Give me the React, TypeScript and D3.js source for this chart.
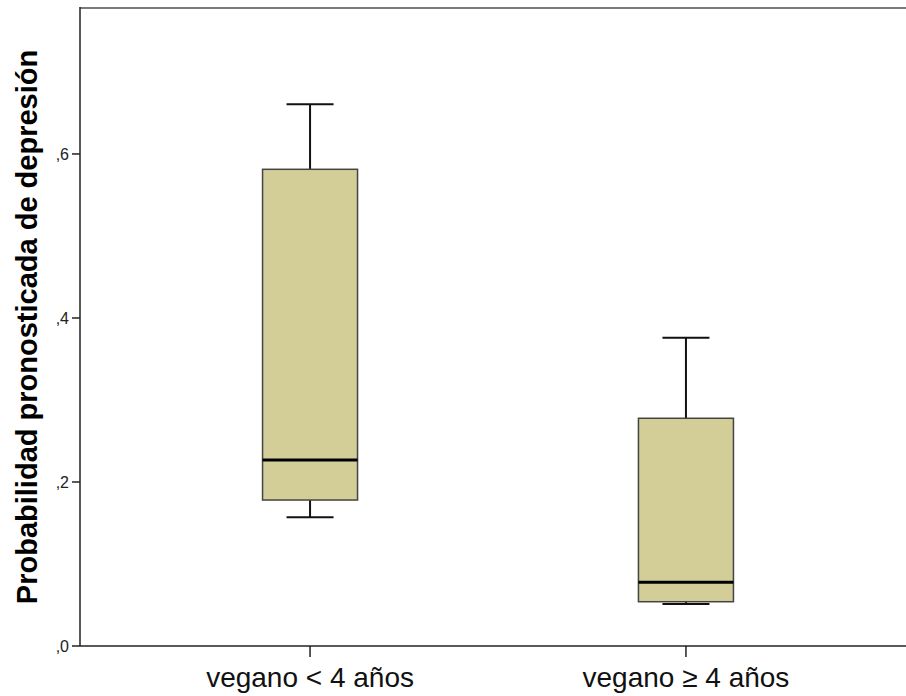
import React from "react";
import * as d3 from "d3";

// Grupos y estadísticos de cada caja (mínimo, Q1, mediana, Q3, máximo)
const categories = ["vegano < 4 años", "vegano \u2265 4 años"];
const whiskerMin = [0.157, 0.0512];
const q1 = [0.178, 0.054];
const median = [0.2268, 0.0777];
const q3 = [0.5813, 0.2777];
const whiskerMax = [0.6606, 0.376];
const yTicks = [0, 0.2, 0.4, 0.6];
const yTitle = "Probabilidad pronosticada de depresión";

const W = 906;
const H = 696;
const left = 80;
const right = 916;
const top = 8;
const bottom = 646;

export default function App() {
  const y = d3.scaleLinear().domain([0, 0.778]).range([bottom, top]);
  const x = d3.scalePoint<string>().domain(categories).range([left, right]).padding(0.612);
  const boxW = 95;
  const capW = 47;
  const fmt = (v: number) => "," + d3.format(".1f")(v).split(".")[1];
  const font = "Arial, 'Liberation Sans', sans-serif";

  return (
    <svg width={W} height={H} style={{ position: "absolute", left: 0, top: 0, background: "#fff" }}>
      {/* marco superior */}
      <line x1={left} x2={W} y1={top} y2={top} stroke="#7a7a7a" strokeWidth={2} />
      {/* cajas */}
      {categories.map((c, i) => {
        const cx = x(c)!;
        return (
          <g key={c}>
            <line x1={cx} x2={cx} y1={y(whiskerMax[i])} y2={y(q3[i])} stroke="#111" strokeWidth={2} />
            <line x1={cx} x2={cx} y1={y(q1[i])} y2={y(whiskerMin[i])} stroke="#111" strokeWidth={2} />
            <line x1={cx - capW / 2} x2={cx + capW / 2} y1={y(whiskerMax[i])} y2={y(whiskerMax[i])} stroke="#111" strokeWidth={2} />
            <line x1={cx - capW / 2} x2={cx + capW / 2} y1={y(whiskerMin[i])} y2={y(whiskerMin[i])} stroke="#111" strokeWidth={2} />
            <rect
              x={cx - boxW / 2}
              y={y(q3[i])}
              width={boxW}
              height={y(q1[i]) - y(q3[i])}
              fill="#d3ce98"
              stroke="#444"
              strokeWidth={1.5}
            />
            <line x1={cx - boxW / 2} x2={cx + boxW / 2} y1={y(median[i])} y2={y(median[i])} stroke="#000" strokeWidth={3} />
          </g>
        );
      })}
      {/* eje Y */}
      <line x1={left} x2={left} y1={top - 1} y2={bottom} stroke="#222" strokeWidth={1.5} />
      {yTicks.map((t) => (
        <g key={t}>
          <line x1={left - 8} x2={left} y1={y(t)} y2={y(t)} stroke="#222" strokeWidth={1.5} />
          <text x={left - 11} y={y(t)} dy="0.35em" textAnchor="end" fontFamily={font} fontSize={16} fill="#222">
            {fmt(t)}
          </text>
        </g>
      ))}
      {/* eje X */}
      <line x1={left} x2={W} y1={bottom} y2={bottom} stroke="#222" strokeWidth={1.5} />
      {categories.map((c) => (
        <g key={c}>
          <line x1={x(c)!} x2={x(c)!} y1={bottom} y2={bottom + 11} stroke="#222" strokeWidth={1.5} />
          <text x={x(c)!} y={687} textAnchor="middle" fontFamily={font} fontSize={28} fill="#111">
            {c}
          </text>
        </g>
      ))}
      <text
        transform={`translate(37, ${(top + bottom) / 2}) rotate(-90)`}
        textAnchor="middle"
        fontFamily={font}
        fontSize={29}
        fontWeight="bold"
        fill="#000"
      >
        {yTitle}
      </text>
    </svg>
  );
}
